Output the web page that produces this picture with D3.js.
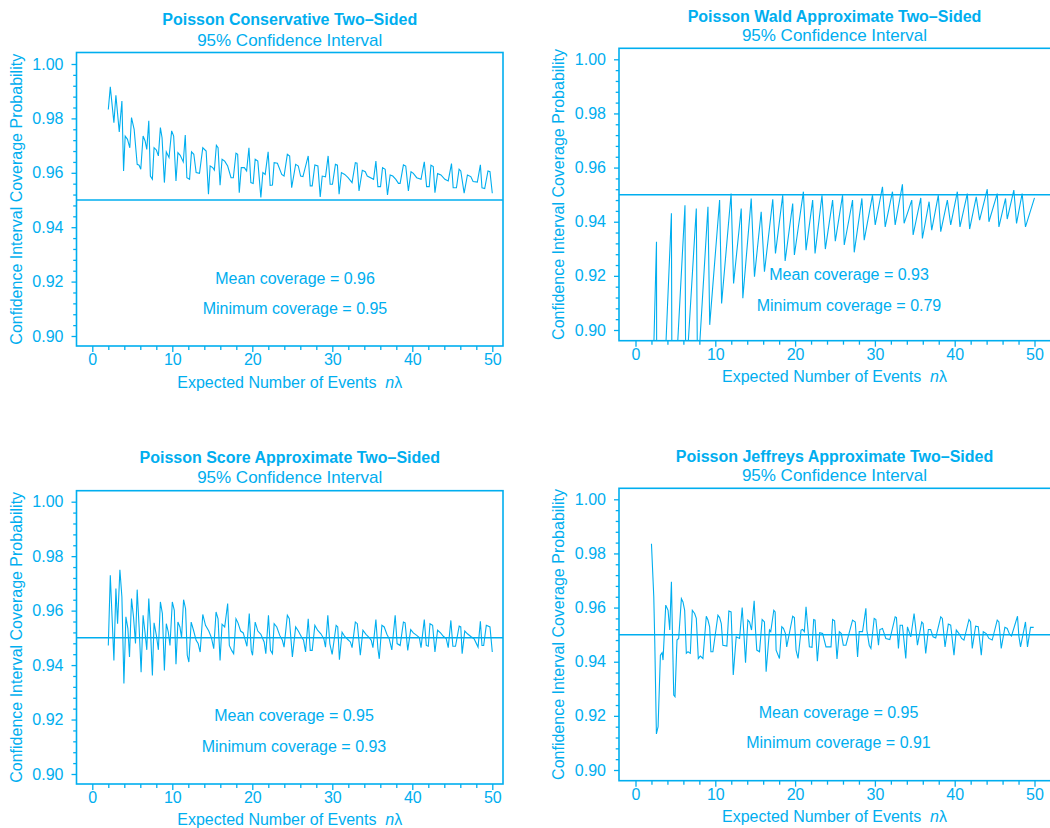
<!DOCTYPE html>
<html>
<head>
<meta charset="utf-8">
<script src="https://cdn.jsdelivr.net/npm/d3@7"></script>
<style>
  html, body { margin: 0; padding: 0; background: #ffffff; }
  svg { display: block; }
  text { font-family: "Liberation Sans", Arial, Helvetica, sans-serif; fill: #00AEEF; }
</style>
</head>
<body>
<svg id="chart" width="1050" height="828"></svg>
<script>
// Coverage probability of four two-sided 95% Poisson intervals, as [n*lambda, coverage]
const conservativeCoverage = [
  [2.00,0.9833],[2.25,0.9916],[2.70,0.9784],[2.95,0.9885],[3.37,0.9750],[3.70,0.9864],[3.91,0.9607],[4.11,0.9735],
  [4.40,0.9723],[4.69,0.9692],[4.90,0.9803],[5.23,0.9760],[5.61,0.9631],[5.85,0.9628],[6.06,0.9613],[6.35,0.9735],
  [6.60,0.9717],[6.81,0.9686],[7.06,0.9791],[7.26,0.9588],[7.51,0.9576],[7.72,0.9692],[8.01,0.9684],[8.26,0.9662],
  [8.51,0.9766],[8.72,0.9729],[9.01,0.9564],[9.25,0.9677],[9.59,0.9656],[9.92,0.9754],[10.17,0.9735],[10.46,0.9570],
  [10.70,0.9674],[10.99,0.9664],[11.37,0.9640],[11.62,0.9739],[11.82,0.9582],[12.16,0.9576],[12.40,0.9677],[12.69,0.9668],
  [12.98,0.9601],[13.40,0.9598],[13.81,0.9692],[14.23,0.9680],[14.52,0.9521],[14.73,0.9625],[15.06,0.9619],[15.26,0.9610],
  [15.51,0.9701],[15.72,0.9692],[15.97,0.9554],[16.22,0.9650],[16.55,0.9643],[16.92,0.9625],[17.34,0.9582],[17.63,0.9582],
  [17.96,0.9672],[18.17,0.9668],[18.37,0.9527],[18.62,0.9619],[19.00,0.9619],[19.29,0.9607],[19.58,0.9692],[19.82,0.9564],
  [20.11,0.9561],[20.36,0.9650],[20.69,0.9643],[21.07,0.9509],[21.32,0.9601],[21.61,0.9594],[21.98,0.9677],[22.23,0.9554],
  [22.52,0.9555],[22.73,0.9637],[23.14,0.9635],[23.68,0.9594],[23.97,0.9588],[24.38,0.9668],[24.67,0.9662],[24.92,0.9545],
  [25.42,0.9631],[25.75,0.9625],[26.04,0.9588],[26.33,0.9586],[26.99,0.9662],[27.24,0.9552],[27.49,0.9552],[27.82,0.9629],
  [28.20,0.9625],[28.49,0.9511],[28.74,0.9588],[29.15,0.9585],[29.48,0.9662],[29.73,0.9558],[30.02,0.9558],[30.39,0.9631],
  [30.64,0.9628],[30.85,0.9521],[31.14,0.9601],[31.55,0.9594],[31.97,0.9582],[32.47,0.9564],[32.88,0.9637],[33.09,0.9635],
  [33.34,0.9533],[33.75,0.9609],[34.12,0.9604],[34.37,0.9588],[35.16,0.9576],[35.45,0.9643],[35.70,0.9549],[36.03,0.9549],
  [36.28,0.9619],[36.61,0.9613],[36.90,0.9519],[37.23,0.9592],[37.56,0.9588],[37.94,0.9576],[38.27,0.9561],[38.48,0.9561],
  [38.89,0.9629],[39.18,0.9625],[39.51,0.9533],[39.84,0.9604],[40.13,0.9598],[40.55,0.9582],[41.09,0.9576],[41.50,0.9640],
  [41.79,0.9549],[42.12,0.9549],[42.33,0.9628],[42.62,0.9623],[42.83,0.9527],[43.16,0.9597],[43.58,0.9592],[44.07,0.9576],
  [44.49,0.9570],[44.90,0.9634],[45.11,0.9545],[45.52,0.9545],[45.85,0.9613],[46.06,0.9607],[46.48,0.9525],[46.89,0.9592],
  [47.31,0.9586],[47.60,0.9568],[48.13,0.9566],[48.51,0.9629],[48.71,0.9545],[49.05,0.9542],[49.46,0.9607],[49.71,0.9604],
  [50.00,0.9525]
];

const waldCoverage = [
  [2.00,0.8600],[2.63,0.9326],[2.70,0.7900],[3.60,0.8800],[4.50,0.9431],[4.62,0.8300],[5.10,0.8850],[6.20,0.9461],
  [6.35,0.8400],[6.50,0.8900],[7.62,0.9449],[7.80,0.8700],[7.95,0.8900],[9.08,0.9455],[9.30,0.9019],[10.54,0.9480],
  [10.79,0.9098],[11.98,0.9504],[12.29,0.9172],[13.25,0.9449],[13.45,0.9117],[14.50,0.9486],[14.91,0.9197],[15.75,0.9437],
  [16.16,0.9215],[17.20,0.9483],[17.54,0.9283],[18.45,0.9498],[18.75,0.9255],[19.70,0.9467],[19.91,0.9277],[21.04,0.9511],
  [21.37,0.9295],[22.20,0.9480],[22.50,0.9283],[23.37,0.9498],[23.79,0.9299],[24.70,0.9480],[25.04,0.9328],[25.95,0.9498],
  [26.16,0.9314],[27.20,0.9480],[27.41,0.9287],[28.37,0.9486],[28.66,0.9332],[29.70,0.9498],[30.04,0.9388],[30.95,0.9529],
  [31.29,0.9381],[32.20,0.9511],[32.54,0.9388],[33.45,0.9538],[33.66,0.9394],[34.62,0.9480],[34.79,0.9351],[35.75,0.9488],
  [35.95,0.9338],[36.79,0.9474],[37.12,0.9369],[37.95,0.9498],[38.25,0.9363],[39.08,0.9480],[39.50,0.9388],[40.33,0.9511],
  [40.66,0.9381],[41.58,0.9504],[41.87,0.9373],[42.70,0.9492],[43.12,0.9406],[44.08,0.9520],[44.29,0.9400],[45.33,0.9504],
  [45.54,0.9381],[46.37,0.9486],[46.58,0.9410],[47.41,0.9517],[47.75,0.9394],[48.45,0.9504],[48.87,0.9381],[50.00,0.9488]
];

const scoreCoverage = [
  [2.00,0.9472],[2.25,0.9730],[2.70,0.9417],[2.95,0.9681],[3.16,0.9552],[3.45,0.9750],[3.70,0.9650],[3.95,0.9332],
  [4.20,0.9577],[4.45,0.9534],[4.65,0.9430],[4.90,0.9644],[5.15,0.9577],[5.40,0.9479],[5.61,0.9677],[5.85,0.9540],
  [6.10,0.9374],[6.35,0.9583],[6.56,0.9528],[6.81,0.9456],[7.06,0.9644],[7.26,0.9540],[7.51,0.9362],[7.72,0.9555],
  [8.01,0.9509],[8.26,0.9456],[8.51,0.9632],[8.76,0.9589],[9.01,0.9380],[9.25,0.9552],[9.50,0.9521],[9.71,0.9472],
  [10.00,0.9632],[10.25,0.9601],[10.46,0.9403],[10.70,0.9558],[10.95,0.9540],[11.16,0.9501],[11.41,0.9640],[11.66,0.9607],
  [11.87,0.9436],[12.07,0.9411],[12.36,0.9558],[12.65,0.9528],[12.98,0.9491],[13.23,0.9479],[13.48,0.9448],[13.81,0.9586],
  [14.15,0.9546],[14.56,0.9525],[14.89,0.9501],[15.18,0.9460],[15.47,0.9595],[15.72,0.9570],[15.97,0.9417],[16.22,0.9550],
  [16.55,0.9540],[16.92,0.9626],[17.13,0.9472],[17.42,0.9454],[17.67,0.9442],[17.96,0.9570],[18.21,0.9555],[18.54,0.9525],
  [18.87,0.9518],[19.33,0.9469],[19.62,0.9589],[19.87,0.9454],[20.03,0.9436],[20.36,0.9558],[20.69,0.9525],[21.07,0.9513],
  [21.48,0.9485],[21.69,0.9442],[22.02,0.9583],[22.27,0.9454],[22.52,0.9442],[22.73,0.9552],[23.06,0.9540],[23.43,0.9509],
  [23.76,0.9491],[23.97,0.9466],[24.38,0.9583],[24.63,0.9570],[25.01,0.9430],[25.42,0.9540],[25.75,0.9525],[26.12,0.9505],
  [26.41,0.9491],[26.66,0.9448],[26.99,0.9570],[27.24,0.9454],[27.49,0.9454],[27.82,0.9546],[28.16,0.9528],[28.57,0.9515],
  [28.94,0.9497],[29.15,0.9466],[29.44,0.9583],[29.69,0.9479],[29.98,0.9439],[30.48,0.9546],[30.68,0.9540],[30.89,0.9420],
  [31.22,0.9521],[31.55,0.9505],[31.97,0.9493],[32.26,0.9485],[32.47,0.9464],[32.88,0.9558],[33.13,0.9552],[33.50,0.9436],
  [33.83,0.9528],[34.21,0.9513],[34.62,0.9501],[34.87,0.9491],[35.08,0.9464],[35.45,0.9567],[35.70,0.9460],[35.87,0.9423],
  [36.20,0.9546],[36.49,0.9540],[36.82,0.9513],[37.11,0.9497],[37.44,0.9456],[37.86,0.9583],[38.10,0.9479],[38.48,0.9472],
  [38.89,0.9558],[39.10,0.9555],[39.43,0.9454],[39.80,0.9530],[40.13,0.9518],[40.55,0.9509],[40.88,0.9501],[41.09,0.9464],
  [41.50,0.9567],[41.75,0.9472],[42.00,0.9469],[42.21,0.9552],[42.54,0.9546],[42.83,0.9448],[43.16,0.9528],[43.53,0.9518],
  [43.91,0.9505],[44.24,0.9497],[44.49,0.9464],[44.82,0.9564],[45.07,0.9469],[45.40,0.9469],[45.86,0.9543],[46.06,0.9540],
  [46.23,0.9442],[46.56,0.9525],[46.89,0.9515],[47.31,0.9505],[47.72,0.9497],[48.22,0.9466],[48.51,0.9561],[48.71,0.9472],
  [48.92,0.9472],[49.25,0.9546],[49.71,0.9540],[50.00,0.9448]
];

const jeffreysCoverage = [
  [2.00,0.9836],[2.29,0.9640],[2.41,0.9480],[2.62,0.9133],[2.83,0.9160],[3.12,0.9424],[3.33,0.9433],[3.45,0.9406],
  [3.79,0.9609],[4.08,0.9590],[4.29,0.9517],[4.50,0.9695],[4.62,0.9517],[4.79,0.9277],[4.95,0.9271],[5.20,0.9480],
  [5.41,0.9486],[5.75,0.9633],[5.95,0.9621],[6.16,0.9590],[6.37,0.9431],[6.58,0.9437],[6.87,0.9431],[7.12,0.9590],
  [7.41,0.9578],[7.62,0.9560],[7.87,0.9412],[8.12,0.9421],[8.45,0.9412],[8.87,0.9568],[9.08,0.9554],[9.29,0.9529],
  [9.45,0.9437],[9.70,0.9437],[10.33,0.9572],[10.54,0.9563],[10.75,0.9541],[10.95,0.9461],[11.45,0.9458],[11.70,0.9587],
  [11.98,0.9584],[12.12,0.9467],[12.25,0.9351],[12.62,0.9492],[13.04,0.9486],[13.37,0.9600],[13.58,0.9504],[13.79,0.9396],
  [14.08,0.9554],[14.29,0.9547],[14.54,0.9517],[14.87,0.9625],[15.04,0.9517],[15.20,0.9443],[15.54,0.9437],[15.87,0.9556],
  [16.16,0.9547],[16.37,0.9363],[16.79,0.9517],[16.95,0.9511],[17.33,0.9590],[17.50,0.9584],[17.62,0.9443],[18.04,0.9412],
  [18.33,0.9529],[18.54,0.9523],[18.79,0.9504],[18.95,0.9455],[19.70,0.9568],[19.91,0.9563],[20.12,0.9443],[20.37,0.9412],
  [20.75,0.9517],[20.95,0.9519],[21.16,0.9511],[21.37,0.9603],[21.58,0.9529],[21.79,0.9455],[22.12,0.9453],[22.33,0.9556],
  [22.50,0.9554],[22.79,0.9402],[23.08,0.9507],[23.45,0.9504],[23.87,0.9455],[24.50,0.9455],[24.70,0.9556],[24.95,0.9551],
  [25.25,0.9410],[25.54,0.9511],[25.79,0.9504],[26.04,0.9461],[26.37,0.9461],[27.20,0.9554],[27.54,0.9547],[27.83,0.9418],
  [28.04,0.9511],[28.45,0.9511],[28.87,0.9597],[28.99,0.9517],[29.29,0.9461],[29.50,0.9449],[29.91,0.9560],[30.12,0.9556],
  [30.45,0.9461],[30.62,0.9519],[30.95,0.9523],[31.37,0.9486],[31.87,0.9482],[32.54,0.9566],[32.70,0.9563],[32.95,0.9449],
  [33.16,0.9535],[33.45,0.9535],[33.87,0.9412],[34.08,0.9529],[34.50,0.9492],[34.91,0.9578],[35.12,0.9523],[35.33,0.9461],
  [35.87,0.9547],[36.04,0.9541],[36.37,0.9431],[36.70,0.9519],[36.99,0.9519],[37.29,0.9492],[37.62,0.9488],[38.25,0.9566],
  [38.45,0.9560],[38.79,0.9455],[39.20,0.9539],[39.50,0.9535],[39.91,0.9424],[40.20,0.9517],[40.54,0.9504],[40.87,0.9486],
  [41.16,0.9480],[41.79,0.9556],[41.99,0.9547],[42.20,0.9449],[42.62,0.9531],[42.95,0.9529],[43.33,0.9424],[43.58,0.9511],
  [43.95,0.9504],[44.29,0.9486],[44.70,0.9480],[45.33,0.9554],[45.54,0.9547],[45.83,0.9449],[46.29,0.9527],[46.58,0.9523],
  [46.87,0.9502],[47.12,0.9495],[47.87,0.9568],[48.04,0.9495],[48.25,0.9455],[48.87,0.9547],[49.12,0.9455],[49.50,0.9527],
  [49.90,0.9527]
];

const panelTitles = [
  "Poisson Conservative Two\u2013Sided",
  "Poisson Wald Approximate Two\u2013Sided",
  "Poisson Score Approximate Two\u2013Sided",
  "Poisson Jeffreys Approximate Two\u2013Sided"
];
const panelSubtitle = "95% Confidence Interval";
const meanCoverage = [0.96, 0.93, 0.95, 0.95];
const minimumCoverage = [0.95, 0.79, 0.93, 0.91];
const nominalLevel = 0.95;

const xTickValues = [0, 10, 20, 30, 40, 50];
const xMinorTickValues = [2, 4, 6, 8, 12, 14, 16, 18, 22, 24, 26, 28, 32, 34, 36, 38, 42, 44, 46, 48];
const yTickValues = [0.90, 0.92, 0.94, 0.96, 0.98, 1.00];
const yMinorTickValues = [0.904, 0.908, 0.912, 0.916, 0.924, 0.928, 0.932, 0.936, 0.944, 0.948, 0.952, 0.956,
                          0.964, 0.968, 0.972, 0.976, 0.984, 0.988, 0.992, 0.996];

const xAxisTitle = "Expected Number of Events";
const yAxisTitle = "Confidence Interval Coverage Probability";

// ---- layout of the four panels (pixels) ----
const ink = "#00AEEF";
const layouts = [
  { box: { l: 76.5, t: 52.5, r: 503, b: 346 },  xr: [92.3, 492.3],  yr: [336, 64],
    titleY: 25, subY: 45.5, xTitleY: 387.5, yTitleX: 21.5, statsX: 295, statsY: [284, 314] },
  { box: { l: 619, t: 48.3, r: 1051, b: 340.7 }, xr: [635.5, 1034.5], yr: [330, 59.3],
    titleY: 21.5, subY: 40.7, xTitleY: 381.7, yTitleX: 564, statsX: 849, statsY: [280, 310.5] },
  { box: { l: 76.5, t: 490.7, r: 503, b: 784 },  xr: [92.3, 492.3],  yr: [774, 501.7],
    titleY: 463.3, subY: 483.3, xTitleY: 825, yTitleX: 21.5, statsX: 294, statsY: [721, 751.5] },
  { box: { l: 619, t: 488.3, r: 1051, b: 780.7 }, xr: [635.5, 1034.5], yr: [770, 499.3],
    titleY: 461.5, subY: 480.7, xTitleY: 821.7, yTitleX: 564, statsX: 838.5, statsY: [717.5, 747.5] }
];
const series = [conservativeCoverage, waldCoverage, scoreCoverage, jeffreysCoverage];

const svg = d3.select("#chart");
const fmt2 = d3.format(".2f");

layouts.forEach((L, i) => {
  const g = svg.append("g");
  const x = d3.scaleLinear().domain([0, 50]).range(L.xr);
  const y = d3.scaleLinear().domain([0.90, 1.00]).range(L.yr);
  const bx = L.box;
  const cx = (bx.l + Math.min(bx.r, 1050)) / 2;

  // titles
  g.append("text").attr("x", cx).attr("y", L.titleY).attr("text-anchor", "middle")
    .attr("font-size", 16).attr("font-weight", "bold").text(panelTitles[i]);
  g.append("text").attr("x", cx).attr("y", L.subY).attr("text-anchor", "middle")
    .attr("font-size", 17).text(panelSubtitle);

  // clip region = plotting frame
  const clipId = "clip" + i;
  svg.append("clipPath").attr("id", clipId).append("rect")
    .attr("x", bx.l).attr("y", bx.t).attr("width", bx.r - bx.l).attr("height", bx.b - bx.t);

  // nominal level reference line
  g.append("line").attr("x1", bx.l).attr("x2", bx.r)
    .attr("y1", y(nominalLevel)).attr("y2", y(nominalLevel))
    .attr("stroke", ink).attr("stroke-width", 1.5);

  // coverage curve
  const line = d3.line().x(d => x(d[0])).y(d => y(d[1]));
  g.append("path").datum(series[i]).attr("clip-path", `url(#${clipId})`)
    .attr("d", line).attr("fill", "none").attr("stroke", ink)
    .attr("stroke-width", 1.1).attr("stroke-linejoin", "miter");

  // frame
  g.append("rect").attr("x", bx.l).attr("y", bx.t)
    .attr("width", bx.r - bx.l).attr("height", bx.b - bx.t)
    .attr("fill", "none").attr("stroke", ink).attr("stroke-width", 1.6);

  // axes
  const styleAxis = sel => {
    sel.attr("font-family", null).attr("font-size", null);
    sel.select(".domain").remove();
    sel.selectAll(".tick line").attr("stroke", ink).attr("stroke-width", 1.3);
    sel.selectAll(".tick text").attr("fill", ink).attr("font-size", 16);
  };
  g.append("g").attr("transform", `translate(${bx.l},0)`)
    .call(d3.axisLeft(y).tickValues(yTickValues).tickSize(5).tickPadding(8).tickFormat(fmt2))
    .call(styleAxis);
  g.append("g").attr("transform", `translate(${bx.l},0)`)
    .call(d3.axisLeft(y).tickValues(yMinorTickValues).tickSize(3.3).tickFormat(""))
    .call(styleAxis);
  g.append("g").attr("transform", `translate(0,${bx.b})`)
    .call(d3.axisBottom(x).tickValues(xTickValues).tickSize(6).tickPadding(2).tickFormat(d3.format("d")))
    .call(styleAxis);
  g.append("g").attr("transform", `translate(0,${bx.b})`)
    .call(d3.axisBottom(x).tickValues(xMinorTickValues).tickSize(4).tickFormat(""))
    .call(styleAxis);

  // axis titles
  const xt = g.append("text").attr("x", cx).attr("y", L.xTitleY).attr("text-anchor", "middle")
    .attr("font-size", 16);
  xt.append("tspan").text(xAxisTitle + "\u00a0\u00a0");
  xt.append("tspan").attr("font-style", "italic").text("n");
  xt.append("tspan").text("\u03bb");

  g.append("text").attr("transform", `translate(${L.yTitleX},${(bx.t + bx.b) / 2}) rotate(-90)`)
    .attr("text-anchor", "middle").attr("font-size", 16).text(yAxisTitle);

  // summary statistics
  g.append("text").attr("x", L.statsX).attr("y", L.statsY[0]).attr("text-anchor", "middle")
    .attr("font-size", 16).text(`Mean coverage = ${fmt2(meanCoverage[i])}`);
  g.append("text").attr("x", L.statsX).attr("y", L.statsY[1]).attr("text-anchor", "middle")
    .attr("font-size", 16).text(`Minimum coverage = ${fmt2(minimumCoverage[i])}`);
});
</script>
</body>
</html>
